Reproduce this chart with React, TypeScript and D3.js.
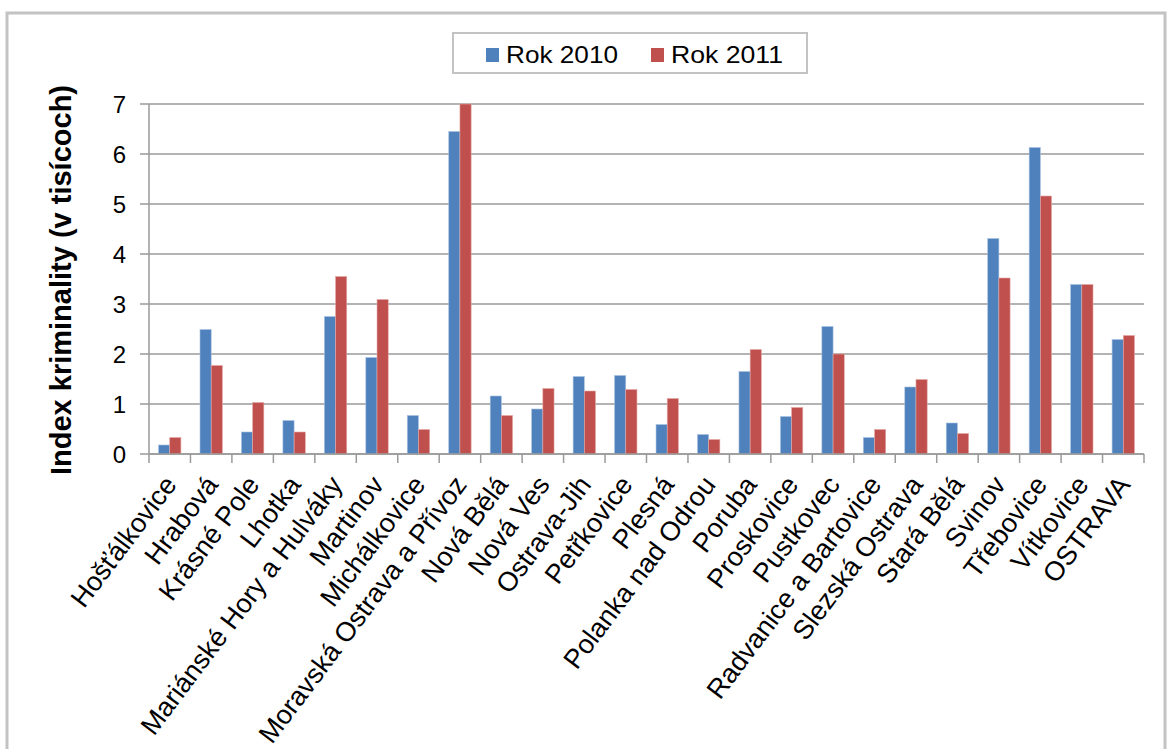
import React from "react";
import * as d3 from "d3";

// Ostrava city districts, crime index in thousands
const districts: string[] = [
  "Hošťálkovice",
  "Hrabová",
  "Krásné Pole",
  "Lhotka",
  "Mariánské Hory a Hulváky",
  "Martinov",
  "Michálkovice",
  "Moravská Ostrava a Přívoz",
  "Nová Bělá",
  "Nová Ves",
  "Ostrava-Jih",
  "Petřkovice",
  "Plesná",
  "Polanka nad Odrou",
  "Poruba",
  "Proskovice",
  "Pustkovec",
  "Radvanice a Bartovice",
  "Slezská Ostrava",
  "Stará Bělá",
  "Svinov",
  "Třebovice",
  "Vítkovice",
  "OSTRAVA",
];

const rok2010: number[] = [
  0.18, 2.49, 0.44, 0.67, 2.75, 1.93, 0.77, 6.45, 1.16, 0.9, 1.55, 1.57,
  0.59, 0.39, 1.65, 0.75, 2.55, 0.33, 1.34, 0.62, 4.31, 6.13, 3.39, 2.29,
];

const rok2011: number[] = [
  0.33, 1.77, 1.03, 0.44, 3.55, 3.09, 0.49, 7.0, 0.77, 1.31, 1.26, 1.29,
  1.11, 0.29, 2.09, 0.93, 2.0, 0.49, 1.49, 0.41, 3.52, 5.16, 3.39, 2.37,
];

const seriesNames: string[] = ["Rok 2010", "Rok 2011"];
const seriesColors: string[] = ["#4F81BD", "#C0504D"];
const yTicks: number[] = [0, 1, 2, 3, 4, 5, 6, 7];

const FONT = "'Liberation Sans', Arial, sans-serif";

export default function App() {
  const W = 1170;
  const H = 749;
  const left = 149;
  const right = 1144;
  const top = 104;
  const bottom = 454;

  const x0 = d3.scaleBand<string>().domain(districts).range([left, right]).padding(0);
  const bw = x0.bandwidth();
  const groupPad = bw * 0.23;
  const x1 = d3
    .scaleBand<string>()
    .domain(seriesNames)
    .range([groupPad, bw - groupPad])
    .padding(0);
  const y = d3.scaleLinear().domain([0, 7]).range([bottom, top]);

  const values = [rok2010, rok2011];
  const gridColor = "#9a9a9a";
  const labelAngle = -53;

  const boundaries = districts.map((d) => x0(d) as number).concat([right]);

  return (
    <svg
      width={W}
      height={H}
      style={{ display: "block", position: "absolute", left: 0, top: 0, background: "#fff" }}
    >
      {/* outer chart frame */}
      <rect x={7} y={13} width={1158} height={800} fill="#fff" stroke="#c3c3c3" strokeWidth={3} />

      {/* horizontal gridlines and y ticks */}
      {yTicks.map((t) => (
        <g key={"g" + t}>
          <line x1={left} x2={right} y1={y(t)} y2={y(t)} stroke={gridColor} strokeWidth={1.5} />
          <line x1={left - 9} x2={left} y1={y(t)} y2={y(t)} stroke={gridColor} strokeWidth={1.5} />
          <text
            x={126}
            y={y(t)}
            dy="0.36em"
            textAnchor="end"
            fontFamily={FONT}
            fontSize={24}
            fill="#000"
          >
            {t}
          </text>
        </g>
      ))}

      {/* bars */}
      {districts.map((d, i) => (
        <g key={d} transform={`translate(${x0(d)},0)`}>
          {seriesNames.map((s, k) => (
            <rect
              key={s}
              x={x1(s) as number}
              y={y(values[k][i])}
              width={x1.bandwidth()}
              height={bottom - y(values[k][i])}
              fill={seriesColors[k]}
              stroke={k === 0 ? "#a9c1e0" : "#e3a9a7"}
              strokeWidth={0.6}
            />
          ))}
        </g>
      ))}

      {/* axes */}
      <line x1={left} x2={left} y1={top} y2={bottom} stroke={gridColor} strokeWidth={1.5} />
      <line x1={left} x2={right} y1={bottom} y2={bottom} stroke={gridColor} strokeWidth={1.5} />
      {boundaries.map((bx, i) => (
        <line key={"xt" + i} x1={bx} x2={bx} y1={bottom} y2={bottom + 9} stroke={gridColor} strokeWidth={1.5} />
      ))}

      {/* category labels */}
      {districts.map((d) => {
        const cx = (x0(d) as number) + bw / 2 + 8;
        const cy = bottom + 31;
        return (
          <text
            key={"l" + d}
            x={cx}
            y={cy}
            textAnchor="end"
            fontFamily={FONT}
            fontSize={27}
            fill="#000"
            transform={`rotate(${labelAngle},${cx},${cy})`}
          >
            {d}
          </text>
        );
      })}

      {/* y axis title */}
      <text
        x={0}
        y={0}
        transform={`translate(71,280) rotate(-90)`}
        textAnchor="middle"
        fontFamily={FONT}
        fontSize={29}
        fontWeight="bold"
        fill="#000"
      >
        Index kriminality (v tisícoch)
      </text>

      {/* legend */}
      <rect x={453} y={33} width={354} height={40} fill="#fff" stroke="#c3c3c3" strokeWidth={2} />
      {seriesNames.map((s, k) => {
        const sx = k === 0 ? 486 : 651;
        return (
          <g key={"lg" + s}>
            <rect x={sx} y={48} width={13} height={14} fill={seriesColors[k]} />
            <text
              x={sx + 20}
              y={63}
              fontFamily={FONT}
              fontSize={24}
              fill="#000"
              textLength={112}
              lengthAdjust="spacingAndGlyphs"
            >
              {s}
            </text>
          </g>
        );
      })}
    </svg>
  );
}
